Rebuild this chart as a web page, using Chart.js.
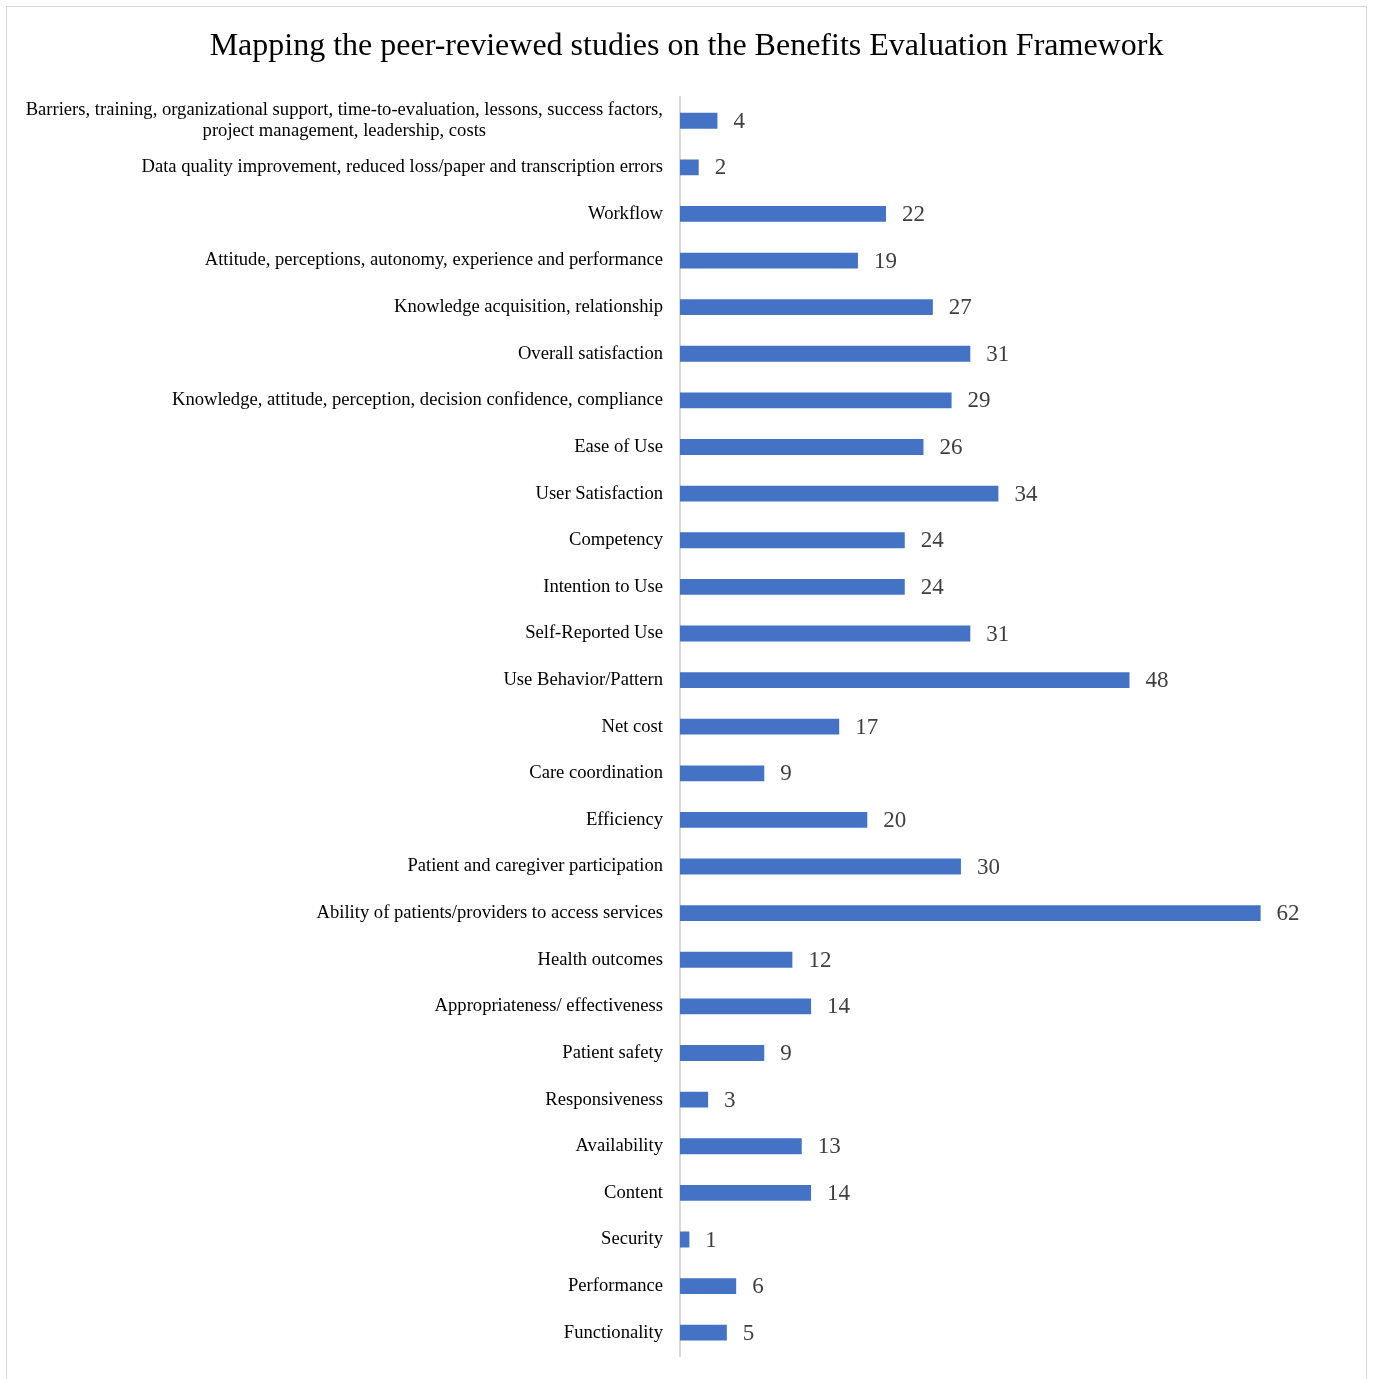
<html>
<head>
<script src="https://cdn.jsdelivr.net/npm/chart.js@4"></script>
<style>
  body { margin: 0; overflow: hidden; background: #fff; }
  #frame { position: absolute; left: 6px; top: 6px; width: 1359px; height: 1400px; border: 1px solid #d9d9d9; }
  #wrap { position: absolute; left: 0; top: 0; width: 1373px; height: 1379px; }
</style>
</head>
<body>
<div id="frame"></div>
<div id="wrap"><canvas id="myChart" width="1373" height="1379"></canvas></div>
<script>
var title = 'Mapping the peer-reviewed studies on the Benefits Evaluation Framework';
var categories = [
  ['Barriers, training, organizational support, time-to-evaluation, lessons, success factors,', 'project management, leadership, costs'],
  'Data quality improvement, reduced loss/paper and transcription errors',
  'Workflow',
  'Attitude, perceptions, autonomy, experience and performance',
  'Knowledge acquisition, relationship',
  'Overall satisfaction',
  'Knowledge, attitude, perception, decision confidence, compliance',
  'Ease of Use',
  'User Satisfaction',
  'Competency',
  'Intention to Use',
  'Self-Reported Use',
  'Use Behavior/Pattern',
  'Net cost',
  'Care coordination',
  'Efficiency',
  'Patient and caregiver participation',
  'Ability of patients/providers to access services',
  'Health outcomes',
  'Appropriateness/ effectiveness',
  'Patient safety',
  'Responsiveness',
  'Availability',
  'Content',
  'Security',
  'Performance',
  'Functionality'
];
var studies = [4, 2, 22, 19, 27, 31, 29, 26, 34, 24, 24, 31, 48, 17, 9, 20, 30, 62, 12, 14, 9, 3, 13, 14, 1, 6, 5];

var serif = '"Liberation Serif", "Times New Roman", serif';

// category labels drawn by hand so the two-line label can be centred like the original
var catLabels = {
  id: 'catLabels',
  afterDraw: function(chart) {
    var ctx = chart.ctx, y = chart.scales.y;
    ctx.save();
    ctx.font = '18.6px ' + serif;
    ctx.fillStyle = '#000';
    ctx.textBaseline = 'middle';
    var right = y.right - 17;
    categories.forEach(function(lab, i) {
      var py = y.getPixelForTick(i);
      if (Array.isArray(lab)) {
        var w0 = ctx.measureText(lab[0]).width;
        var cx = right - w0 / 2;
        ctx.textAlign = 'center';
        var lh = 21;
        lab.forEach(function(line, j) {
          ctx.fillText(line, cx, py + (j - (lab.length - 1) / 2) * lh);
        });
      } else {
        ctx.textAlign = 'right';
        ctx.fillText(lab, right, py);
      }
    });
    ctx.restore();
  }
};

var valueLabels = {
  id: 'valueLabels',
  afterDatasetsDraw: function(chart) {
    var ctx = chart.ctx;
    ctx.save();
    ctx.font = '23px ' + serif;
    ctx.fillStyle = '#404040';
    ctx.textAlign = 'left';
    ctx.textBaseline = 'middle';
    chart.getDatasetMeta(0).data.forEach(function(bar, i) {
      ctx.fillText(studies[i], bar.x + 16, bar.y + 1);
    });
    ctx.restore();
  }
};

var ctx = document.getElementById('myChart').getContext('2d');
var chart = new Chart(ctx, {
  type: 'bar',
  data: {
    labels: categories,
    datasets: [{
      label: 'Studies',
      data: studies,
      backgroundColor: '#4472C4',
      barPercentage: 0.68,
      categoryPercentage: 0.5
    }]
  },
  options: {
    indexAxis: 'y',
    responsive: false,
    animation: false,
    layout: { padding: { top: 0, right: 0, bottom: 23, left: 0 } },
    plugins: {
      legend: { display: false },
      tooltip: { enabled: false },
      title: {
        display: true,
        text: title,
        color: '#000',
        font: { family: serif, size: 32, weight: 'normal' },
        padding: { top: 27, bottom: 32 }
      }
    },
    scales: {
      x: { display: false, min: 0, max: 74 },
      y: {
        grid: { display: false, drawTicks: false },
        border: { color: '#d9d9d9', width: 2 },
        ticks: { display: false },
        afterFit: function(scale) { scale.width = 680; }
      }
    }
  },
  plugins: [catLabels, valueLabels]
});
</script>
</body>
</html>
